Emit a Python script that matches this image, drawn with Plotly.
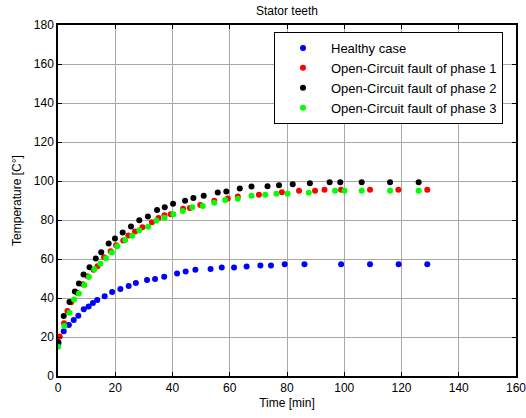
import plotly.graph_objects as go

# Stator teeth temperature over time, healthy vs. open-circuit faults
t_healthy = [0.2, 2.0, 3.8, 5.5, 7.1, 9.0, 10.7, 12.2, 13.7, 16.3, 18.9, 21.8, 24.7, 27.2,
             31.1, 33.9, 37.1, 41.6, 44.6, 48.0, 53.3, 57.2, 61.5, 65.9, 70.7, 74.4, 79.2,
             86.1, 98.9, 109.0, 119.0, 129.0]
temp_healthy = [17.0, 23.0, 26.2, 28.7, 30.9, 34.2, 35.7, 37.4, 39.0, 40.9, 43.1, 44.6, 46.2, 47.7,
                49.2, 49.7, 50.9, 52.6, 53.6, 54.5, 54.9, 55.7, 55.7, 56.2, 56.7, 56.7, 57.3,
                57.3, 57.3, 57.3, 57.3, 57.3]

t_phase1 = [0.6, 2.1, 3.3, 4.6, 6.8, 8.7, 10.3, 12.4, 13.8, 16.1, 18.4, 20.3, 22.8, 24.6, 26.9,
            29.5, 32.8, 35.1, 37.2, 39.4, 43.7, 46.1, 49.7, 54.6, 59.3, 62.8, 70.2, 78.2, 84.2,
            89.8, 93.1, 98.9, 109.0, 118.9, 129.0]
temp_phase1 = [20.3, 27.0, 33.3, 37.8, 42.6, 47.0, 51.2, 54.5, 56.3, 60.9, 64.0, 67.0, 69.5, 72.0, 74.1,
               76.3, 78.8, 81.0, 82.4, 82.9, 85.8, 86.1, 87.7, 89.9, 91.0, 92.0, 93.0, 94.2, 95.0,
               95.0, 95.5, 95.5, 95.5, 95.5, 95.5]

t_phase2 = [0.0, 2.0, 4.0, 5.9, 7.3, 8.9, 11.0, 13.2, 15.1, 17.7, 19.9, 22.6, 25.5, 28.4, 31.4,
            34.6, 37.3, 40.2, 44.4, 47.3, 50.9, 55.8, 58.8, 63.5, 67.6, 73.2, 77.2, 82.0, 88.0,
            94.9, 98.6, 106.1, 116.0, 126.0]
temp_phase2 = [17.4, 30.8, 37.9, 43.3, 47.5, 52.1, 55.8, 60.3, 63.5, 68.0, 70.5, 73.6, 76.7, 79.9, 81.8,
               85.1, 86.6, 88.3, 89.9, 91.3, 92.4, 94.1, 94.6, 96.1, 97.2, 97.3, 97.8, 98.3, 98.8,
               99.3, 99.3, 99.3, 99.3, 99.3]

t_phase3 = [0.0, 2.2, 4.0, 5.6, 7.3, 9.2, 10.8, 12.7, 14.8, 16.8, 18.8, 20.7, 23.5, 25.9, 28.4,
            31.5, 34.4, 37.2, 40.3, 43.6, 46.9, 50.6, 54.6, 58.4, 62.8, 67.6, 72.4, 76.3, 80.2,
            87.6, 96.8, 100.1, 106.1, 116.0, 126.0]
temp_phase3 = [15.0, 25.6, 32.5, 39.2, 42.3, 46.7, 50.8, 54.7, 57.6, 60.4, 63.3, 66.6, 69.8, 71.9, 74.7,
               76.5, 79.8, 81.1, 83.0, 84.6, 86.6, 87.2, 88.9, 90.2, 90.9, 92.5, 93.0, 93.5, 93.5,
               94.0, 95.0, 95.0, 95.0, 95.0, 95.0]

series = [
    ("Healthy case", t_healthy, temp_healthy, "#0000ff"),
    ("Open-Circuit fault of phase 1", t_phase1, temp_phase1, "#ff0000"),
    ("Open-Circuit fault of phase 2", t_phase2, temp_phase2, "#000000"),
    ("Open-Circuit fault of phase 3", t_phase3, temp_phase3, "#00ff00"),
]

x_ticks = [0, 20, 40, 60, 80, 100, 120, 140, 160]
y_ticks = [0, 20, 40, 60, 80, 100, 120, 140, 160, 180]

fig = go.Figure()
for name, t, temp, color in series:
    fig.add_trace(go.Scatter(
        x=t, y=temp, mode="markers", name=name,
        marker=dict(color=color, size=6, line=dict(width=0)),
    ))

font = "Liberation Sans, Arial, sans-serif"
axis_common = dict(
    showline=True, linecolor="black", linewidth=1.5, mirror="ticks",
    ticks="inside", ticklen=4, tickcolor="black",
    showgrid=True, gridcolor="#a8a8a8", gridwidth=1,
    zeroline=False, automargin=False, ticklabeloverflow="allow",
    tickfont=dict(family=font, size=12, color="black"),
)

fig.update_layout(
    width=526, height=418,
    margin=dict(l=58, r=10, t=25, b=42),
    paper_bgcolor="white", plot_bgcolor="white",
    font=dict(family=font, size=12, color="black"),
    title=dict(text="Stator teeth", x=0.5, xref="paper", xanchor="center",
               y=0.975, yanchor="middle", font=dict(family=font, size=12, color="black")),
    xaxis=dict(range=[0, 160], tickvals=x_ticks,
               title=dict(text="Time [min]", standoff=4, font=dict(family=font, size=12)),
               **axis_common),
    yaxis=dict(range=[0, 180], tickvals=y_ticks,
               title=dict(text="Temperature [C°]", standoff=10, font=dict(family=font, size=12)),
               **axis_common),
    legend=dict(
        x=0.4716, y=0.98, xanchor="left", yanchor="top",
        bgcolor="white", bordercolor="black", borderwidth=1,
        font=dict(family=font, size=13, color="black"),
        itemwidth=46, tracegroupgap=0,
    ),
    showlegend=True,
)

fig.write_html("out.html")
